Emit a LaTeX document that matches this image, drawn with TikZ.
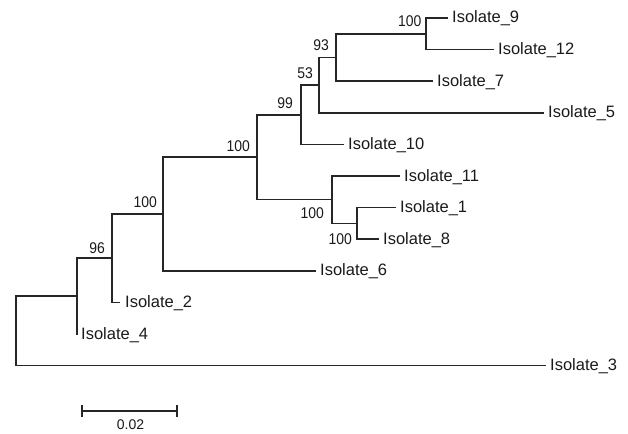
\documentclass[tikz,border=0pt]{standalone}
\usepackage{fontspec}
\setmainfont{Liberation Sans}
\newfontfamily\numfont{Liberation Sans}[FakeStretch=0.9]
\definecolor{ln}{HTML}{262626}
\definecolor{tx}{HTML}{1A1A1A}
\tikzset{
  branch/.style={draw=ln, line width=1.5pt, line cap=rect},
  leaflab/.style={anchor=base west, inner sep=0pt, text=tx, font=\fontsize{16.5}{18}\selectfont},
  bootlab/.style={inner sep=0pt, text=tx, font=\numfont\fontsize{15.5}{17}\selectfont},
  scalelab/.style={anchor=base, inner sep=0pt, text=tx, font=\fontsize{14}{16}\selectfont}
}
\begin{document}
\begin{tikzpicture}[x=1pt,y=-1pt]
\useasboundingbox (0,0) rectangle (628,433);
% internal nodes
\coordinate (R)  at (16,330.9);
\coordinate (Na) at (77,296.1);
\coordinate (Nb) at (112,258.2);
\coordinate (Nc) at (163,214);
\coordinate (Nd) at (257,157.2);
\coordinate (Ne) at (301,114.8);
\coordinate (Nf) at (319,85.15);
\coordinate (Ng) at (336,57.5);
\coordinate (Nh) at (426,33.8);
\coordinate (Ni) at (332,199.7);
\coordinate (Nj) at (357,223.4);
% leaf ends
\coordinate (I9)  at (447,18);
\coordinate (I12) at (493,49.6);
\coordinate (I7)  at (432,81.2);
\coordinate (I5)  at (543,112.8);
\coordinate (I10) at (343,144.4);
\coordinate (I11) at (399,176);
\coordinate (I1)  at (395,207.6);
\coordinate (I8)  at (378,239.2);
\coordinate (I6)  at (315,270.8);
\coordinate (I2)  at (119,302.4);
\coordinate (I4)  at (77,334);
\coordinate (I3)  at (545,365.6);
% branches
\draw[branch] (R) |- (Na);
\draw[branch] (R) |- (I3);
\draw[branch] (Na) |- (Nb);
\draw[branch] (Na) |- (I4);
\draw[branch] (Nb) |- (Nc);
\draw[branch] (Nb) |- (I2);
\draw[branch] (Nc) |- (Nd);
\draw[branch] (Nc) |- (I6);
\draw[branch] (Nd) |- (Ne);
\draw[branch] (Nd) |- (Ni);
\draw[branch] (Ne) |- (Nf);
\draw[branch] (Ne) |- (I10);
\draw[branch] (Nf) |- (Ng);
\draw[branch] (Nf) |- (I5);
\draw[branch] (Ng) |- (Nh);
\draw[branch] (Ng) |- (I7);
\draw[branch] (Nh) |- (I9);
\draw[branch] (Nh) |- (I12);
\draw[branch] (Ni) |- (I11);
\draw[branch] (Ni) |- (Nj);
\draw[branch] (Nj) |- (I1);
\draw[branch] (Nj) |- (I8);
% leaf labels
\node[leaflab] (L9)  at ([xshift=5pt,yshift=-5pt]I9)  {Isolate\_9};
\node[leaflab] (L12) at ([xshift=5pt,yshift=-5pt]I12) {Isolate\_12};
\node[leaflab] (L7)  at ([xshift=5pt,yshift=-5pt]I7)  {Isolate\_7};
\node[leaflab] (L5)  at ([xshift=5pt,yshift=-5pt]I5)  {Isolate\_5};
\node[leaflab] (L10) at ([xshift=5pt,yshift=-5pt]I10) {Isolate\_10};
\node[leaflab] (L11) at ([xshift=5pt,yshift=-5pt]I11) {Isolate\_11};
\node[leaflab] (L1)  at ([xshift=5pt,yshift=-5pt]I1)  {Isolate\_1};
\node[leaflab] (L8)  at ([xshift=5pt,yshift=-5pt]I8)  {Isolate\_8};
\node[leaflab] (L6)  at ([xshift=5pt,yshift=-5pt]I6)  {Isolate\_6};
\node[leaflab] (L2)  at ([xshift=6pt,yshift=-5pt]I2)  {Isolate\_2};
\node[leaflab] (L4)  at ([xshift=4pt,yshift=-5pt]I4)  {Isolate\_4};
\node[leaflab] (L3)  at ([xshift=5pt,yshift=-5pt]I3)  {Isolate\_3};
% bootstrap labels
\node[bootlab, anchor=base east] (Bb) at ([xshift=-7pt,yshift=5pt]Nb) {96};
\node[bootlab, anchor=base east] (Bc) at ([xshift=-6pt,yshift=7pt]Nc) {100};
\node[bootlab, anchor=base east] (Bd) at ([xshift=-7pt,yshift=6pt]Nd) {100};
\node[bootlab, anchor=base east] (Be) at ([xshift=-8pt,yshift=6pt]Ne) {99};
\node[bootlab, anchor=base east] (Bf) at ([xshift=-6pt,yshift=7pt]Nf) {53};
\node[bootlab, anchor=base east] (Bg) at ([xshift=-7pt,yshift=6.5pt]Ng) {93};
\node[bootlab, anchor=base east] (Bh) at ([xshift=-4.5pt,yshift=6.8pt]Nh) {100};
\node[bootlab, anchor=north east] (Bi) at ([xshift=-8pt,yshift=-8pt]Ni) {100};
\node[bootlab, anchor=north east] (Bj) at ([xshift=-5pt,yshift=-9.6pt]Nj) {100};
% scale bar
\coordinate (S1) at (82,411);
\coordinate (S2) at (177,411);
\draw[branch, line cap=butt] (S1) -- (S2);
\draw[branch, line cap=butt] ([yshift=6pt]S1) -- ([yshift=-6pt]S1);
\draw[branch, line cap=butt] ([yshift=6pt]S2) -- ([yshift=-6pt]S2);
\coordinate (SM) at (130.5,429);
\node[scalelab] (SL) at (SM) {0.02};
\end{tikzpicture}
\end{document}
